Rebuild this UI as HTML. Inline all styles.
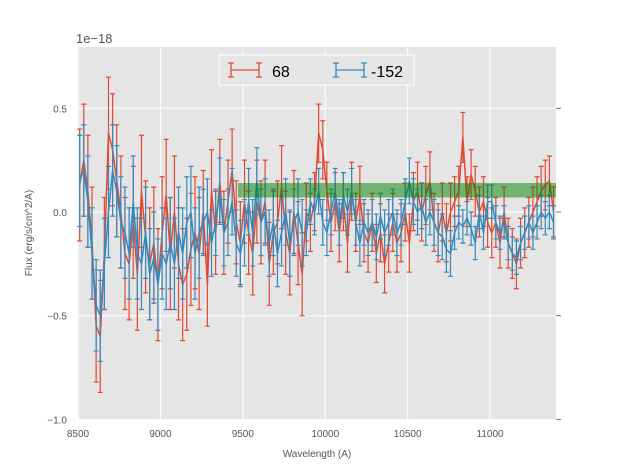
<!DOCTYPE html>
<html><head><meta charset="utf-8"><style>
body{margin:0;background:#fff;}
svg text{font-family:"Liberation Sans",sans-serif;}
</style></head><body>
<svg id="chart" width="617" height="467" xmlns="http://www.w3.org/2000/svg">
<rect x="0" y="0" width="617" height="467" fill="#fff"/>
<rect x="78" y="47" width="478" height="373" fill="#e5e5e5"/>
<g id="grid"></g>
<g id="series"></g>
<g id="axes"></g>
<text x="76" y="43" font-size="13" fill="#555">1e−18</text>
<text x="317" y="457" font-size="10" fill="#555" text-anchor="middle">Wavelength (A)</text>
<text x="32" y="233" font-size="10" fill="#555" text-anchor="middle" transform="rotate(-90 32 233)">Flux (erg/s/cm^2/A)</text>
<g>
<rect x="219" y="55" width="195" height="30" fill="#e5e5e5" stroke="#fff" stroke-width="1"/>
<g>
<path d="M231 70H259M231 63V77M259 63V77M228 63H234M228 77H234M256 63H262M256 77H262" stroke="#e24a33" stroke-width="1.3" fill="none"/>
<text x="272" y="77" font-size="16" fill="#000">68</text></g>
<g>
<path d="M336 70H364M336 63V77M364 63V77M333 63H339M333 77H339M361 63H367M361 77H367" stroke="#348abd" stroke-width="1.3" fill="none"/>
<text x="371" y="77" font-size="16" fill="#000">-152</text></g>
</g>
</svg>
<script>
const xTicks=[8500,9000,9500,10000,10500,11000];
const yTicks=[0.5,0.0,-0.5,-1.0];
const yTickLabels=["0.5","0.0","−0.5","−1.0"];
const startWave=8510, stepWave=25;
const red=[0.13,0.25,0.1,-0.15,-0.55,-0.6,-0.2,0.38,0.3,0.15,0.0,-0.2,-0.25,-0.05,-0.3,0.1,-0.12,-0.25,-0.15,-0.35,-0.1,0.08,-0.2,0.0,-0.25,-0.35,-0.3,-0.18,-0.1,-0.2,
0.0,-0.35,0.1,-0.1,0.15,-0.1,0.05,0.2,-0.05,-0.15,0.05,-0.1,-0.2,0.05,-0.05,0.05,-0.25,-0.1,-0.05,0.12,-0.1,-0.2,0.0,-0.15,-0.3,
0.0,-0.05,0.05,0.38,0.3,0.1,-0.05,0.05,-0.1,0.05,-0.15,0.1,-0.05,0.08,-0.1,-0.15,-0.05,-0.2,-0.1,-0.25,-0.15,-0.05,-0.15,-0.1,0.0,-0.15,0.05,0.1,0.0,0.08,0.15,-0.05,-0.1,0.0,-0.1,
0.0,0.05,0.1,0.36,0.05,0.18,0.1,0.0,0.05,-0.05,-0.1,-0.05,-0.15,0.0,-0.15,-0.2,-0.25,-0.15,-0.1,-0.05,0.0,0.05,0.1,0.13,0.15,0.0];
const blue=[0.15,0.2,0.05,-0.2,-0.45,-0.5,-0.25,0.0,0.2,0.1,-0.05,-0.1,-0.2,0.05,-0.2,-0.25,-0.1,-0.3,-0.22,-0.35,-0.2,-0.25,-0.15,-0.25,-0.1,-0.2,-0.05,0.0,-0.2,-0.1,
-0.05,0.0,-0.15,-0.05,0.1,-0.1,-0.05,0.05,-0.15,-0.2,-0.1,0.05,-0.1,0.15,-0.05,0.0,-0.15,-0.05,-0.2,-0.1,0.0,-0.15,-0.05,0.0,-0.1,
-0.1,0.05,0.0,0.1,-0.05,-0.1,0.0,0.1,-0.05,0.08,0.0,0.1,-0.05,-0.15,-0.05,-0.1,-0.05,-0.12,-0.02,-0.1,-0.05,0.0,-0.1,-0.05,0.05,0.15,0.05,0.0,0.03,-0.05,0.0,-0.05,-0.1,-0.12,-0.18,
-0.2,-0.1,-0.05,-0.07,-0.03,-0.08,-0.15,0.0,-0.1,0.05,0.05,-0.05,-0.1,-0.05,-0.15,-0.2,-0.22,-0.15,-0.1,-0.05,-0.1,-0.05,0.0,-0.03,0.0,-0.05];
const errBreaks=[9250,9880,10760];
const redErrLevels=[0.27,0.2,0.14,0.12];
const blueErrLevels=[0.22,0.16,0.11,0.08];
const band=[9470,11400,0.07,0.14];
const NS='http://www.w3.org/2000/svg';
const X=v=>78+(v-8500)*478/2900;
const Y=v=>212-v*207.4;
function mk(tag,attrs,parent){const e=document.createElementNS(NS,tag);for(const k in attrs)e.setAttribute(k,attrs[k]);parent.appendChild(e);return e;}
const grid=document.getElementById('grid'),axes=document.getElementById('axes'),ser=document.getElementById('series');
xTicks.forEach(t=>{
 const l=mk('line',{x1:X(t),x2:X(t),y1:47,y2:420,stroke:'#fff','stroke-width':1},grid);
 
 
 const tx=mk('text',{x:X(t),y:437,'font-size':10,fill:'#555','text-anchor':'middle'},axes);
 tx.textContent=t;
 
 
});
yTicks.forEach((t,i)=>{
 const l=mk('line',{x1:78,x2:556,y1:Y(t),y2:Y(t),stroke:'#fff','stroke-width':1},grid);
 
 
 const m=mk('line',{x1:556,x2:561,y1:Y(t),y2:Y(t),stroke:'#777','stroke-width':1},axes);
 
 
 const tx=mk('text',{x:67,y:Y(t)+4,'font-size':10,fill:'#555','text-anchor':'end'},axes);
 tx.textContent=yTickLabels[i];
 
 
});
function errFor(levels,w){let k=0;while(k<errBreaks.length&&w>errBreaks[k])k++;return levels[k];}
function drawSeries(vals,levels,color,name){
 const g=mk('g',{},ser);
 
 
 let d='';
 vals.forEach((v,i)=>{
  const w=startWave+i*stepWave,e=errFor(levels,w),x=X(w),y1=Y(v+e),y2=Y(v-e);
  d+=`M${x} ${y1}V${y2}M${x-2.5} ${y1}H${x+2.5}M${x-2.5} ${y2}H${x+2.5}`;
 });
 const eb=mk('path',{d:d,stroke:color,'stroke-width':1.2,fill:'none'},g);
 
 
 const pts=vals.map((v,i)=>X(startWave+i*stepWave)+','+Y(v)).join(' ');
 const pl=mk('polyline',{points:pts,stroke:color,'stroke-width':1.5,fill:'none'},g);
 
 
}
drawSeries(red,redErrLevels,'#e24a33','series-68');
drawSeries(blue,blueErrLevels,'#348abd','series-minus152');
const b=mk('rect',{x:X(band[0]),y:Y(band[3]),width:Math.min(556,X(band[1]))-X(band[0]),height:Y(band[2])-Y(band[3]),fill:'#008000','fill-opacity':0.5},ser);


</script>
</body></html>
